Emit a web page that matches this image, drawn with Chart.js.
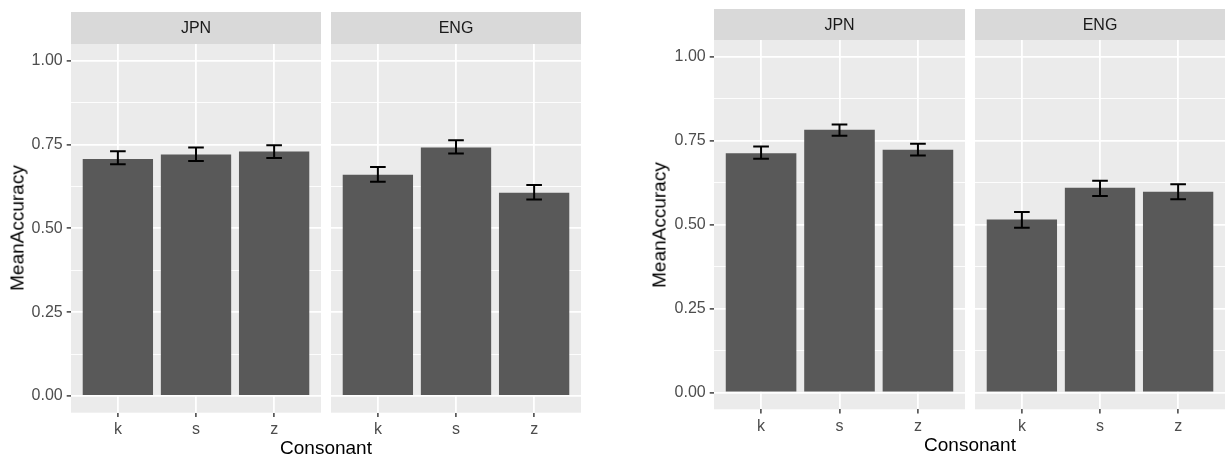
<!DOCTYPE html>
<html>
<head>
<meta charset="utf-8">
<script src="https://cdn.jsdelivr.net/npm/chart.js@4.4.1/dist/chart.umd.min.js"></script>
<style>
  body { margin: 0; background: #ffffff; }
  #wrap { position: relative; width: 1225px; height: 457px; overflow: hidden; font-family: "Liberation Sans", Arial, sans-serif; }
  canvas { position: absolute; top: 0; }
  .xtitle { position: absolute; font-size: 19px; line-height: 19px; color: #000; transform: translateX(-50%); white-space: nowrap; }
  .ytitle { position: absolute; font-size: 19px; line-height: 19px; color: #000; transform: translate(-50%, -50%) rotate(-90deg); white-space: nowrap; }
</style>
</head>
<body>
<div id="wrap">
  <canvas id="leftJpn" width="321" height="457" style="left:0px"></canvas>
  <canvas id="leftEng" width="250" height="457" style="left:331px"></canvas>
  <canvas id="rightJpn" width="345" height="457" style="left:620px"></canvas>
  <canvas id="rightEng" width="250" height="457" style="left:975px"></canvas>

  <div class="ytitle" style="left:17px; top:228px">MeanAccuracy</div>
  <div class="xtitle" style="left:326px; top:438px">Consonant</div>
  <div class="ytitle" style="left:659px; top:225px">MeanAccuracy</div>
  <div class="xtitle" style="left:970px; top:435px">Consonant</div>
</div>

<script>
// categories + tick values
const consonants = ['k', 's', 'z'];
const xPos = [1, 2, 3];
const majorTicks = [0, 0.25, 0.5, 0.75, 1.0];
const minorTicks = [0.125, 0.375, 0.625, 0.875];

// left figure
const leftJpnMean = [0.707, 0.720, 0.729];
const leftJpnLo = [0.691, 0.701, 0.710];
const leftJpnHi = [0.730, 0.741, 0.748];

const leftEngMean = [0.660, 0.741, 0.606];
const leftEngLo = [0.639, 0.723, 0.586];
const leftEngHi = [0.683, 0.763, 0.629];

// right figure
const rightJpnMean = [0.713, 0.783, 0.723];
const rightJpnLo = [0.696, 0.765, 0.706];
const rightJpnHi = [0.733, 0.798, 0.741];

const rightEngMean = [0.515, 0.610, 0.598];
const rightEngLo = [0.491, 0.585, 0.576];
const rightEngHi = [0.538, 0.631, 0.620];

const FONT = '"Liberation Sans", Arial, sans-serif';

function isMajor(v) {
  return majorTicks.some(m => Math.abs(m - v) < 1e-9);
}

// grey panel + strip on top of it
const panelPlugin = {
  id: 'panel',
  beforeDraw(chart, args, opts) {
    const a = chart.chartArea;
    const c = chart.ctx;
    c.save();
    c.fillStyle = '#ebebeb';
    c.fillRect(a.left, a.top, a.right - a.left, a.bottom - a.top);
    c.fillStyle = '#d9d9d9';
    c.fillRect(a.left, a.top - opts.stripH, a.right - a.left, opts.stripH);
    c.fillStyle = '#1a1a1a';
    c.font = '16px ' + FONT;
    c.textAlign = 'center';
    c.textBaseline = 'middle';
    c.fillText(opts.label, (a.left + a.right) / 2, a.top - opts.stripH / 2 + 1);
    c.restore();
  }
};

// error bars, drawn from the lo/hi arrays via the scales
const errorPlugin = {
  id: 'errbars',
  afterDatasetsDraw(chart, args, opts) {
    const xs = chart.scales.x;
    const ys = chart.scales.y;
    const c = chart.ctx;
    c.save();
    c.strokeStyle = '#000000';
    c.lineWidth = 2;
    for (let i = 0; i < xPos.length; i++) {
      const x = xs.getPixelForValue(xPos[i]);
      const half = xs.getPixelForValue(xPos[i] + 0.1) - x;
      const yLo = ys.getPixelForValue(opts.lo[i]);
      const yHi = ys.getPixelForValue(opts.hi[i]);
      c.beginPath();
      c.moveTo(x, yLo); c.lineTo(x, yHi);
      c.moveTo(x - half, yLo); c.lineTo(x + half, yLo);
      c.moveTo(x - half, yHi); c.lineTo(x + half, yHi);
      c.stroke();
    }
    c.restore();
  }
};

function makePanel(id, label, mean, lo, hi, cfg) {
  const ctx = document.getElementById(id).getContext('2d');
  return new Chart(ctx, {
    type: 'bar',
    data: {
      datasets: [{
        data: xPos.map((x, i) => ({ x: x, y: mean[i] })),
        backgroundColor: '#595959',
        borderWidth: 0,
        barPercentage: 0.9,
        categoryPercentage: 1.0
      }]
    },
    options: {
      responsive: false,
      animation: false,
      devicePixelRatio: 1,
      layout: { padding: { top: cfg.padTop, left: 0, right: 0, bottom: 0 } },
      plugins: {
        legend: { display: false },
        tooltip: { enabled: false },
        panel: { label: label, stripH: cfg.stripH },
        errbars: { lo: lo, hi: hi }
      },
      scales: {
        x: {
          type: 'linear',
          min: 0.4,
          max: 3.6,
          offset: false,
          afterBuildTicks: s => { s.ticks = xPos.map(v => ({ value: v })); },
          afterFit: s => { s.height = cfg.xAxisH; },
          border: { display: false },
          grid: { offset: false, color: '#ffffff', lineWidth: 1.8, tickColor: '#333333', tickLength: 4.3, tickWidth: 1.4 },
          ticks: {
            padding: 3,
            color: '#4d4d4d',
            font: { family: FONT, size: 16 },
            maxRotation: 0,
            callback: v => consonants[xPos.indexOf(v)]
          }
        },
        y: {
          min: -0.05,
          max: 1.05,
          afterBuildTicks: s => {
            s.ticks = majorTicks.concat(minorTicks).sort((a, b) => a - b).map(v => ({ value: v }));
          },
          afterFit: s => { s.width = cfg.yAxisW; },
          border: { display: false },
          grid: {
            color: '#ffffff',
            lineWidth: c => isMajor(c.tick.value) ? 1.8 : 0.9,
            drawTicks: cfg.showY,
            tickColor: c => isMajor(c.tick.value) ? '#333333' : 'rgba(0,0,0,0)',
            tickLength: 4.3,
            tickWidth: 1.4
          },
          ticks: {
            display: cfg.showY,
            padding: 4,
            color: '#4d4d4d',
            font: { family: FONT, size: 16 },
            callback: v => isMajor(v) ? v.toFixed(2) : ''
          }
        }
      }
    },
    plugins: [panelPlugin, errorPlugin]
  });
}

const leftCfg = { padTop: 44, stripH: 32, xAxisH: 44.3 };
const rightCfg = { padTop: 40, stripH: 31, xAxisH: 47.7 };

makePanel('leftJpn', 'JPN', leftJpnMean, leftJpnLo, leftJpnHi, Object.assign({ yAxisW: 71, showY: true }, leftCfg));
makePanel('leftEng', 'ENG', leftEngMean, leftEngLo, leftEngHi, Object.assign({ yAxisW: 0, showY: false }, leftCfg));
makePanel('rightJpn', 'JPN', rightJpnMean, rightJpnLo, rightJpnHi, Object.assign({ yAxisW: 94, showY: true }, rightCfg));
makePanel('rightEng', 'ENG', rightEngMean, rightEngLo, rightEngHi, Object.assign({ yAxisW: 0, showY: false }, rightCfg));
</script>
</body>
</html>
